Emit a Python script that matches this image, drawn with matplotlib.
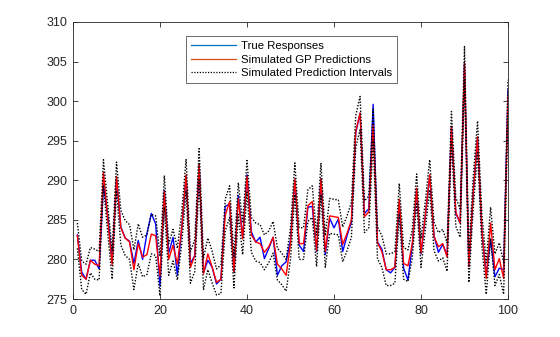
import matplotlib
matplotlib.use("Agg")
import matplotlib.pyplot as plt
from matplotlib.lines import Line2D

plt.rcParams['font.family'] = ['Liberation Sans', 'DejaVu Sans']

x = list(range(1, 101))

true_resp = [283.1, 278.4, 277.5, 279.9, 279.9, 278.8, 289.4, 285.5, 279.7, 290.2,
             284.1, 282.7, 282.3, 279.5, 282.4, 280.0, 283.3, 285.8, 284.5, 276.6,
             288.7, 280.8, 282.8, 278.0, 284.0, 290.5, 279.5, 280.5, 292.0, 278.3,
             279.9, 279.0, 276.9, 277.5, 286.7, 287.0, 278.4, 288.1, 282.8, 290.7,
             283.5, 282.2, 282.8, 280.1, 281.4, 282.8, 278.0, 279.2, 279.7, 282.5,
             290.0, 281.8, 281.0, 286.6, 286.7, 281.0, 290.2, 280.6, 285.2, 284.0,
             285.1, 281.0, 283.0, 284.7, 296.0, 298.5, 285.8, 286.4, 299.6, 282.2,
             281.3, 278.7, 278.3, 279.0, 287.0, 278.9, 277.4, 281.8, 288.8, 280.7,
             285.5, 290.5, 283.0, 280.9, 281.9, 280.5, 296.8, 285.8, 284.6, 304.8,
             279.1, 288.4, 295.3, 283.5, 278.0, 282.6, 277.8, 278.9, 278.7, 301.4]

gp_pred = [283.0, 278.0, 277.5, 279.9, 279.4, 279.2, 291.0, 285.0, 279.3, 290.5,
           284.0, 282.7, 282.2, 278.7, 282.0, 280.3, 280.6, 283.2, 283.0, 277.9,
           288.6, 280.0, 281.8, 279.4, 284.0, 290.7, 279.0, 280.5, 292.0, 278.2,
           280.7, 279.0, 277.1, 277.5, 285.6, 287.3, 278.4, 287.7, 282.6, 290.5,
           283.1, 282.2, 282.0, 280.9, 281.6, 282.8, 279.4, 278.8, 278.0, 282.0,
           290.2, 282.0, 282.0, 286.8, 287.3, 281.1, 290.2, 281.0, 285.5, 285.4,
           285.3, 281.9, 283.3, 285.0, 296.2, 298.5, 285.4, 286.0, 297.0, 282.1,
           281.0, 278.7, 278.7, 279.0, 287.6, 279.5, 279.2, 282.0, 289.0, 280.8,
           285.6, 290.7, 282.9, 281.6, 282.0, 280.3, 296.8, 286.0, 284.6, 304.8,
           279.1, 288.4, 295.5, 283.7, 277.6, 284.6, 278.7, 280.1, 277.6, 300.6]

pi_upper = [284.6, 279.8, 279.4, 281.5, 281.3, 281.0, 292.6, 286.8, 281.1, 292.3,
            286.2, 284.9, 284.4, 281.2, 284.5, 282.8, 283.1, 285.7, 285.5, 280.4,
            290.6, 282.0, 283.8, 281.4, 286.0, 292.7, 281.0, 282.5, 294.0, 280.2,
            282.7, 281.0, 278.8, 279.3, 287.6, 289.3, 280.4, 289.7, 284.6, 292.5,
            285.3, 284.6, 284.4, 283.1, 283.6, 284.8, 281.4, 280.8, 280.0, 284.0,
            292.2, 284.0, 284.0, 288.8, 289.3, 283.1, 292.2, 283.0, 287.7, 287.6,
            287.5, 284.1, 285.5, 287.2, 298.2, 300.6, 287.4, 288.0, 299.0, 284.1,
            283.0, 280.7, 280.7, 281.0, 289.6, 281.5, 281.2, 283.8, 290.8, 282.6,
            287.4, 292.6, 284.7, 283.4, 283.8, 282.1, 298.7, 287.8, 286.4, 306.9,
            281.1, 290.4, 297.5, 285.7, 279.6, 286.6, 280.7, 282.1, 279.6, 302.7]

pi_lower = [281.4, 276.2, 275.6, 278.3, 277.5, 277.4, 289.4, 283.2, 277.5, 288.7,
            281.8, 280.5, 280.0, 276.2, 279.5, 277.8, 278.1, 280.7, 280.5, 275.4,
            286.6, 278.0, 279.8, 277.4, 282.0, 288.7, 277.0, 278.5, 290.0, 276.2,
            278.7, 277.0, 275.5, 275.7, 283.6, 285.3, 276.4, 285.7, 280.6, 288.5,
            280.9, 279.8, 279.6, 278.7, 279.6, 280.8, 277.4, 276.8, 276.0, 280.0,
            288.2, 280.0, 280.0, 284.8, 285.3, 279.1, 288.2, 279.0, 283.3, 283.2,
            283.1, 279.7, 281.1, 282.8, 294.2, 296.4, 283.4, 284.0, 295.0, 280.1,
            279.0, 276.7, 276.7, 277.0, 285.6, 277.5, 277.2, 280.2, 287.2, 279.0,
            283.8, 288.8, 281.1, 279.8, 280.2, 278.5, 294.9, 284.2, 282.8, 302.7,
            277.1, 286.4, 293.5, 281.7, 275.6, 282.6, 276.7, 278.1, 275.6, 298.5]

legend_labels = ['True Responses', 'Simulated GP Predictions', 'Simulated Prediction Intervals']
x_ticks = [0, 20, 40, 60, 80, 100]
y_ticks = [275, 280, 285, 290, 295, 300, 305, 310]

fig = plt.figure(figsize=(5.6, 3.37), dpi=100)
ax = fig.add_axes([73/560, 38/337, 435/560, 277/337])

dot = (0, (1.0, 1.2))
ax.plot(x, true_resp, color='#0000ff', lw=1.0)
ax.plot(x, gp_pred, color='#ff0000', lw=1.0)
ax.plot(x, pi_upper, color='black', lw=1.0, linestyle=dot)
ax.plot(x, pi_lower, color='black', lw=1.0, linestyle=dot)

ax.set_xlim(0, 100)
ax.set_ylim(275, 310)
ax.set_xticks(x_ticks)
ax.set_yticks(y_ticks)
grey = '#262626'
ax.tick_params(direction='in', length=3.5, width=0.6, labelsize=9, colors=grey,
               top=True, right=True, pad=4)
for s in ax.spines.values():
    s.set_color(grey)
    s.set_linewidth(0.6)

handles = [Line2D([], [], color='#0072BD', lw=0.9),
           Line2D([], [], color='#D95319', lw=0.9),
           Line2D([], [], color='black', lw=0.9, linestyle=dot)]
leg = ax.legend(handles, legend_labels, loc='upper left', bbox_to_anchor=(0.26, 0.949),
                fontsize=8.2, frameon=True, fancybox=False, handlelength=4.0,
                handletextpad=0.4, borderpad=0.42, labelspacing=0.33, borderaxespad=0)
leg.get_frame().set_edgecolor(grey)
leg.get_frame().set_linewidth(0.6)

fig.savefig('out.png', dpi=100)
